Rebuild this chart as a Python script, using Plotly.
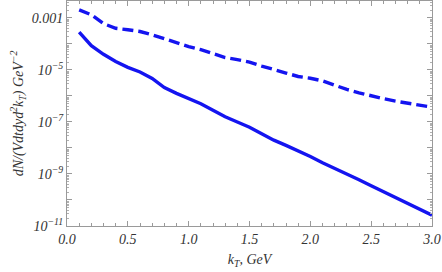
import plotly.graph_objects as go

kT = [0.1, 0.2, 0.3, 0.4, 0.5, 0.6, 0.7, 0.8, 0.9, 1.0,
      1.1, 1.2, 1.3, 1.4, 1.5, 1.6, 1.7, 1.8, 1.9, 2.0,
      2.1, 2.2, 2.3, 2.4, 2.5, 2.6, 2.7, 2.8, 2.9, 3.0]

solid = [2.82e-4, 8.5e-5, 4.0e-5, 2.1e-5, 1.26e-5, 8.3e-6, 4.7e-6, 2.1e-6, 1.26e-6, 7.9e-7,
         5.0e-7, 2.8e-7, 1.58e-7, 1.0e-7, 6.3e-8, 3.5e-8, 2.0e-8, 1.26e-8, 7.9e-9, 4.7e-9,
         2.7e-9, 1.66e-9, 1.0e-9, 6.0e-10, 3.5e-10, 2.1e-10, 1.26e-10, 7.6e-11, 4.5e-11, 2.6e-11]

dashed = [2.04e-3, 1.32e-3, 6.0e-4, 4.0e-4, 3.5e-4, 3.0e-4, 2.24e-4, 1.58e-4, 1.07e-4, 7.9e-5,
          6.0e-5, 4.2e-5, 3.0e-5, 2.5e-5, 2.0e-5, 1.41e-5, 1.0e-5, 7.6e-6, 5.6e-6, 4.8e-6,
          3.8e-6, 2.6e-6, 1.78e-6, 1.32e-6, 1.0e-6, 7.9e-7, 6.3e-7, 5.2e-7, 4.4e-7, 3.7e-7]

y_tickvals = [1e-3, 1e-4, 1e-5, 1e-6, 1e-7, 1e-8, 1e-9, 1e-10, 1e-11]
y_ticktext = ["0.001", "", "10<sup>−5</sup>", "", "10<sup>−7</sup>", "", "10<sup>−9</sup>", "", "10<sup>−11</sup>"]
x_tickvals = [0.0, 0.5, 1.0, 1.5, 2.0, 2.5, 3.0]
x_ticktext = ["0.0", "0.5", "1.0", "1.5", "2.0", "2.5", "3.0"]

BLUE = "#1414f0"
FONT = dict(family="Liberation Serif", size=14, color="#333333", style="italic")

fig = go.Figure()
fig.add_trace(go.Scatter(x=kT, y=dashed, mode="lines",
                         line=dict(color=BLUE, width=3.4, dash="11px,5px")))
fig.add_trace(go.Scatter(x=kT, y=solid, mode="lines",
                         line=dict(color=BLUE, width=3.4)))

axis_common = dict(showline=True, linecolor="#9a9a9a", linewidth=1, mirror="allticks",
                   ticks="inside", tickcolor="#9a9a9a", showgrid=False, zeroline=False,
                   tickfont=FONT)

fig.update_xaxes(range=[0, 3.0], tickvals=x_tickvals, ticktext=x_ticktext, ticklen=5,
                 minor=dict(ticks="inside", dtick=0.1, ticklen=3, tickcolor="#9a9a9a"),
                 title=dict(text="k<sub>T</sub>, GeV", font=FONT, standoff=8),
                 **axis_common)
fig.update_yaxes(type="log", range=[-11, -2.35], tickvals=y_tickvals, ticktext=y_ticktext,
                 ticklen=5,
                 minor=dict(ticks="inside", ticklen=2, tickcolor="#b0b0b0", dtick="D1"),
                 title=dict(text="dN/(Vdtdyd<sup>2</sup>k<sub>T</sub>) GeV<sup>−2</sup>",
                            font=FONT, standoff=4),
                 **axis_common)

fig.update_layout(width=442, height=272, margin=dict(l=67, r=10, t=1, b=46),
                  paper_bgcolor="white", plot_bgcolor="white", showlegend=False)

fig.write_html("out.html", config={"displayModeBar": False},
               post_script="document.body.style.margin='0';document.body.style.overflow='hidden';")
